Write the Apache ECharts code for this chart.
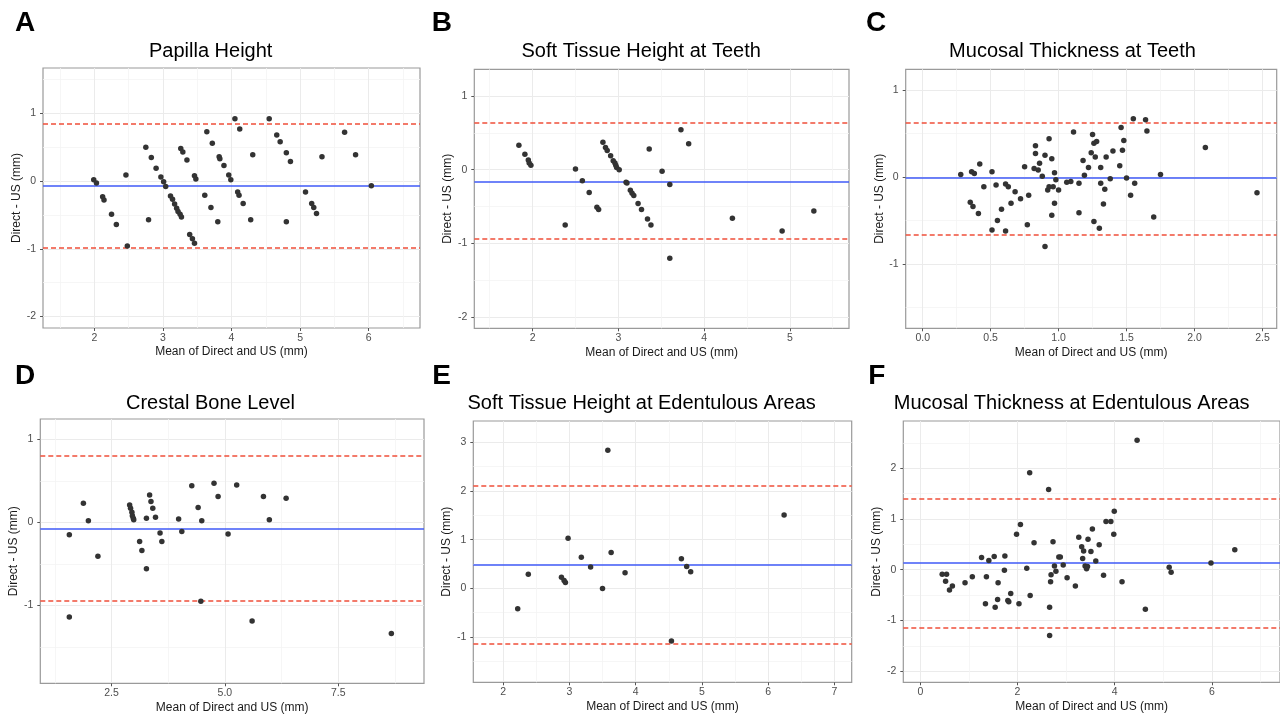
<!DOCTYPE html>
<html><head><meta charset="utf-8">
<script src="https://cdn.jsdelivr.net/npm/echarts@6/dist/echarts.min.js"></script>
<style>html,body{margin:0;padding:0;background:#fff}#c{width:1280px;height:715px}</style>
</head><body><div id="c"></div>
<script>
// ---------- DATA ----------
const titles = ['Papilla Height','Soft Tissue Height at Teeth','Mucosal Thickness at Teeth','Crestal Bone Level','Soft Tissue Height at Edentulous Areas','Mucosal Thickness at Edentulous Areas'];
const letters = ['A','B','C','D','E','F'];
const xName = 'Mean of Direct and US (mm)';
const yName = 'Direct - US (mm)';

// A: Papilla Height
const A_mean = [1.99,2.03,2.12,2.14,2.25,2.32,2.46,2.48,2.75,2.79,
                2.83,2.90,2.97,3.01,3.04,3.11,3.14,3.17,3.20,3.22,
                3.25,3.27,3.26,3.29,3.35,3.46,3.48,3.39,3.43,3.46,
                3.61,3.64,3.70,3.72,3.80,3.82,3.83,3.89,3.96,3.99,
                4.05,4.09,4.11,4.12,4.17,4.28,4.31,4.55,4.66,4.71,
                4.80,4.80,4.86,5.08,5.17,5.20,5.24,5.32,5.65,5.81,
                6.04];
const A_diff = [0.02,-0.03,-0.23,-0.28,-0.49,-0.64,0.09,-0.96,0.50,-0.57,
                0.35,0.19,0.06,-0.01,-0.08,-0.22,-0.27,-0.34,-0.40,-0.45,
                -0.49,-0.53,0.48,0.43,0.31,0.08,0.03,-0.79,-0.85,-0.92,
                -0.21,0.73,-0.39,0.56,-0.60,0.36,0.33,0.23,0.09,0.02,
                0.92,-0.16,-0.21,0.77,-0.33,-0.57,0.39,0.92,0.68,0.58,
                0.42,-0.60,0.29,-0.16,-0.33,-0.39,-0.48,0.36,0.72,0.39,
                -0.07];
const A_bias = -0.065, A_loa = [0.84, -0.99];
const A_xRange = [1.25, 6.75], A_yRange = [-2.17, 1.67];
const A_xTicks = [2,3,4,5,6], A_yTicks = [-2,-1,0,1];
const A_xMinor = [1.5,2.5,3.5,4.5,5.5,6.5], A_yMinor = [-1.5,-0.5,0.5,1.5];

// B: Soft Tissue Height at Teeth
const B_mean = [1.84,1.91,1.95,1.96,1.98,2.38,2.50,2.58,2.66,2.75,
                2.77,2.82,2.85,2.87,2.91,2.94,2.96,2.97,2.98,3.01,
                3.09,3.10,3.14,3.16,3.18,3.23,3.27,3.34,3.38,3.36,
                3.51,3.60,3.60,3.73,3.82,4.33,4.91,5.28];
const B_diff = [0.33,0.21,0.13,0.09,0.06,-0.75,0.01,-0.15,-0.31,-0.51,
                -0.54,0.37,0.30,0.26,0.19,0.12,0.09,0.06,0.03,0.00,
                -0.17,-0.18,-0.28,-0.32,-0.35,-0.46,-0.54,-0.67,-0.75,0.28,
                -0.02,-0.20,-1.20,0.54,0.35,-0.66,-0.83,-0.56];
const B_bias = -0.158, B_loa = [0.625, -0.944];
const B_xRange = [1.32, 5.69], B_yRange = [-2.15, 1.36];
const B_xTicks = [2,3,4,5], B_yTicks = [-2,-1,0,1];
const B_xMinor = [1.5,2.5,3.5,4.5,5.5], B_yMinor = [-1.5,-0.5,0.5];

// C: Mucosal Thickness at Teeth
const C_mean = [0.28,0.35,0.36,0.37,0.38,0.41,0.42,0.45,0.51,0.51,
                0.54,0.55,0.58,0.61,0.61,0.63,0.65,0.68,0.72,0.75,
                0.77,0.78,0.82,0.83,0.83,0.85,0.86,0.88,0.90,0.90,
                0.92,0.93,0.93,0.95,0.95,0.96,0.97,0.97,0.98,1.00,
                1.06,1.09,1.11,1.15,1.15,1.18,1.19,1.22,1.24,1.25,
                1.26,1.26,1.28,1.27,1.30,1.31,1.31,1.34,1.33,1.35,
                1.38,1.40,1.45,1.46,1.47,1.48,1.50,1.53,1.55,1.56,
                1.64,1.65,1.70,1.75,2.08,2.46];
const C_diff = [0.03,-0.29,0.06,-0.34,0.04,-0.42,0.15,-0.11,-0.61,0.06,
                -0.09,-0.50,-0.37,-0.08,-0.62,-0.11,-0.30,-0.17,-0.25,0.12,
                -0.55,-0.21,0.10,0.36,0.27,0.08,0.16,0.01,-0.80,0.25,
                -0.15,0.44,-0.11,-0.44,0.21,-0.11,0.05,-0.30,-0.03,-0.15,
                -0.06,-0.05,0.52,-0.07,-0.41,0.19,0.02,0.11,0.28,0.49,
                -0.51,0.39,0.41,0.23,-0.59,-0.07,0.11,-0.14,-0.31,0.23,
                -0.02,0.30,0.13,0.57,0.31,0.42,-0.01,-0.21,0.67,-0.07,
                0.66,0.53,-0.46,0.03,0.34,-0.18];
const C_bias = -0.015, C_loa = [0.625, -0.655];
const C_xRange = [-0.125, 2.605], C_yRange = [-1.74, 1.24];
const C_xTicks = [0,0.5,1,1.5,2,2.5], C_yTicks = [-1,0,1];
const C_xMinor = [0.25,0.75,1.25,1.75,2.25], C_yMinor = [-1.5,-0.5,0.5];

// D: Crestal Bone Level
const D_mean = [1.57,1.57,1.88,1.99,2.20,2.90,2.92,2.95,2.96,2.98,
                2.99,3.12,3.17,3.27,3.27,3.34,3.37,3.41,3.47,3.57,
                3.61,3.98,4.05,4.27,4.41,4.47,4.49,4.76,4.85,5.07,
                5.26,5.60,5.85,5.98,6.35,8.67];
const D_diff = [-0.15,-1.14,0.23,0.02,-0.41,0.21,0.17,0.12,0.08,0.05,
                0.03,-0.23,-0.34,-0.56,0.05,0.33,0.25,0.17,0.06,-0.13,
                -0.23,0.04,-0.11,0.44,0.18,-0.95,0.02,0.47,0.31,-0.14,
                0.45,-1.19,0.31,0.03,0.29,-1.34];
const D_bias = -0.076, D_loa = [0.80, -0.95];
const D_xRange = [0.93, 9.39], D_yRange = [-1.94, 1.245];
const D_xTicks = [2.5,5,7.5], D_yTicks = [-1,0,1];
const D_xMinor = [1.25,3.75,6.25,8.75], D_yMinor = [-1.5,-0.5,0.5];

// E: Soft Tissue Height at Edentulous Areas
const E_mean = [2.22,2.38,2.88,2.92,2.94,2.98,3.18,3.32,3.50,3.58,
                3.63,3.84,4.54,4.69,4.77,4.83,6.24];
const E_diff = [-0.42,0.29,0.23,0.16,0.12,1.03,0.64,0.44,0.00,2.84,
                0.74,0.32,-1.08,0.61,0.45,0.34,1.51];
const E_bias = 0.48, E_loa = [2.10, -1.14];
const E_xRange = [1.55, 7.26], E_yRange = [-1.93, 3.44];
const E_xTicks = [2,3,4,5,6,7], E_yTicks = [-1,0,1,2,3];
const E_xMinor = [2.5,3.5,4.5,5.5,6.5], E_yMinor = [-1.5,-0.5,0.5,1.5,2.5];

// F: Mucosal Thickness at Edentulous Areas
const F_mean = [0.45,0.54,0.52,0.60,0.66,0.92,1.07,1.26,1.34,1.36,
                1.41,1.52,1.54,1.59,1.60,1.73,1.74,1.80,1.82,1.86,
                1.98,2.03,2.06,2.19,2.25,2.26,2.34,2.64,2.66,2.66,
                2.68,2.69,2.73,2.76,2.79,2.85,2.88,2.94,3.02,3.19,
                3.26,3.32,3.34,3.36,3.39,3.42,3.44,3.45,3.51,3.54,
                3.61,3.68,3.77,3.82,3.92,3.98,3.99,4.15,4.46,4.63,
                5.12,5.16,5.98,6.47];
const F_diff = [-0.09,-0.09,-0.23,-0.40,-0.32,-0.26,-0.14,0.24,-0.67,-0.14,
                0.18,0.26,-0.74,-0.59,-0.26,-0.01,0.27,-0.61,-0.63,-0.47,
                0.70,-0.67,0.89,0.03,1.91,-0.51,0.53,1.58,-0.74,-1.30,
                -0.24,-0.10,0.55,0.07,-0.03,0.25,0.25,0.09,-0.16,-0.32,
                0.64,0.45,0.22,0.37,0.07,0.02,0.06,0.60,0.36,0.80,
                0.17,0.49,-0.11,0.95,0.95,0.70,1.15,-0.24,2.55,-0.78,
                0.05,-0.05,0.13,0.39];
const F_bias = 0.13, F_loa = [1.39, -1.145];
const F_xRange = [-0.35, 7.4], F_yRange = [-2.22, 2.93];
const F_xTicks = [0,2,4,6], F_yTicks = [-2,-1,0,1,2];
const F_xMinor = [1,3,5,7], F_yMinor = [-1.5,-0.5,0.5,1.5,2.5];

// ---------- LAYOUT ----------
const layout = [
  {left:43,    top:68,   width:377,   height:260,   lx:15,    ly:23,    tx:210.7,  ty:51},
  {left:474.3, top:69.3, width:374.7, height:259,   lx:431.7, ly:23.5,  tx:641.2,  ty:51},
  {left:905.7, top:69.3, width:371,   height:259,   lx:866,   ly:23.3,  tx:1072.5, ty:51},
  {left:40.3,  top:419,  width:383.7, height:264.3, lx:15,    ly:376.7, tx:210.5,  ty:403.5},
  {left:473.3, top:421,  width:378.4, height:261.3, lx:432.3, ly:376.7, tx:641.7,  ty:403.5},
  {left:903.3, top:421,  width:380.3, height:261.3, lx:868.3, ly:376.7, tx:1071.7, ty:403.5}
];
const panels = [
  {mean:A_mean, diff:A_diff, bias:A_bias, loa:A_loa, xr:A_xRange, yr:A_yRange, xt:A_xTicks, yt:A_yTicks, xm:A_xMinor, ym:A_yMinor, xdec:0},
  {mean:B_mean, diff:B_diff, bias:B_bias, loa:B_loa, xr:B_xRange, yr:B_yRange, xt:B_xTicks, yt:B_yTicks, xm:B_xMinor, ym:B_yMinor, xdec:0},
  {mean:C_mean, diff:C_diff, bias:C_bias, loa:C_loa, xr:C_xRange, yr:C_yRange, xt:C_xTicks, yt:C_yTicks, xm:C_xMinor, ym:C_yMinor, xdec:1},
  {mean:D_mean, diff:D_diff, bias:D_bias, loa:D_loa, xr:D_xRange, yr:D_yRange, xt:D_xTicks, yt:D_yTicks, xm:D_xMinor, ym:D_yMinor, xdec:1},
  {mean:E_mean, diff:E_diff, bias:E_bias, loa:E_loa, xr:E_xRange, yr:E_yRange, xt:E_xTicks, yt:E_yTicks, xm:E_xMinor, ym:E_yMinor, xdec:0},
  {mean:F_mean, diff:F_diff, bias:F_bias, loa:F_loa, xr:F_xRange, yr:F_yRange, xt:F_xTicks, yt:F_yTicks, xm:F_xMinor, ym:F_yMinor, xdec:0}
];

const FONT = '"Liberation Sans", Arial, Helvetica, sans-serif';
const grid = [], xAxis = [], yAxis = [], series = [], graphic = [];
const tickLabelStyle = {fontSize:10.5, color:'#4d4d4d', fontFamily:FONT};
const nameStyle = {fontSize:12, color:'#1a1a1a', fontFamily:FONT};

panels.forEach((p, i) => {
  const L = layout[i];
  grid.push({left:L.left, top:L.top, width:L.width, height:L.height, show:true,
             borderColor:'#9a9a9a', borderWidth:1.2, backgroundColor:'transparent', containLabel:false});
  // minor axes (first so drawn beneath)
  xAxis.push({gridIndex:i, type:'value', min:p.xr[0], max:p.xr[1], position:'bottom',
    axisLine:{show:false, onZero:false}, axisTick:{show:false, customValues:p.xm}, axisLabel:{show:false},
    splitLine:{show:true, lineStyle:{color:'#f4f4f4', width:0.8}}});
  yAxis.push({gridIndex:i, type:'value', min:p.yr[0], max:p.yr[1], position:'left',
    axisLine:{show:false, onZero:false}, axisTick:{show:false, customValues:p.ym}, axisLabel:{show:false},
    splitLine:{show:true, lineStyle:{color:'#f4f4f4', width:0.8}}});
  // major axes
  const dec = p.xdec;
  xAxis.push({gridIndex:i, type:'value', min:p.xr[0], max:p.xr[1], position:'bottom',
    axisLine:{show:false, onZero:false},
    axisTick:{show:true, length:3, customValues:p.xt, lineStyle:{color:'#555', width:1}},
    axisLabel:Object.assign({customValues:p.xt, margin:4.5, formatter:v => Number(v).toFixed(dec)}, tickLabelStyle),
    splitLine:{show:true, lineStyle:{color:'#ebebeb', width:1}},
    name:xName, nameLocation:'middle', nameGap:18, nameTextStyle:nameStyle});
  yAxis.push({gridIndex:i, type:'value', min:p.yr[0], max:p.yr[1], position:'left',
    axisLine:{show:false, onZero:false},
    axisTick:{show:true, length:3, customValues:p.yt, lineStyle:{color:'#555', width:1}},
    axisLabel:Object.assign({customValues:p.yt, margin:7, formatter:v => String(Number(v))}, tickLabelStyle),
    splitLine:{show:true, lineStyle:{color:'#ebebeb', width:1}},
    name:yName, nameLocation:'middle', nameGap:20, nameTextStyle:nameStyle});

  series.push({type:'scatter', xAxisIndex:2*i+1, yAxisIndex:2*i+1, z:3,
    data:p.mean.map((m, k) => [m, p.diff[k]]),
    symbol:'circle', symbolSize:5.5, itemStyle:{color:'#333333', opacity:1},
    markLine:{z:1, silent:true, symbol:'none', animation:false, label:{show:false},
      data:[
        {yAxis:p.bias,   lineStyle:{color:'#3f5af7', type:'solid', width:1.6}},
        {yAxis:p.loa[0], lineStyle:{color:'#ef4f3a', type:[5,3], width:1.5}},
        {yAxis:p.loa[1], lineStyle:{color:'#ef4f3a', type:[5,3], width:1.5}}
      ]}});

  graphic.push({type:'text', x:L.lx, y:L.ly, style:{text:letters[i], fill:'#000',
    font:'bold 28px ' + FONT, align:'left', verticalAlign:'middle', textAlign:'left', textVerticalAlign:'middle'}});
  graphic.push({type:'text', x:L.tx, y:L.ty, style:{text:titles[i], fill:'#000',
    font:'20px ' + FONT, align:'center', verticalAlign:'middle', textAlign:'center', textVerticalAlign:'middle'}});
});

const chart = echarts.init(document.getElementById('c'), null, {renderer:'canvas'});
chart.setOption({animation:false, backgroundColor:'#fff', grid, xAxis, yAxis, series, graphic});
</script></body></html>
